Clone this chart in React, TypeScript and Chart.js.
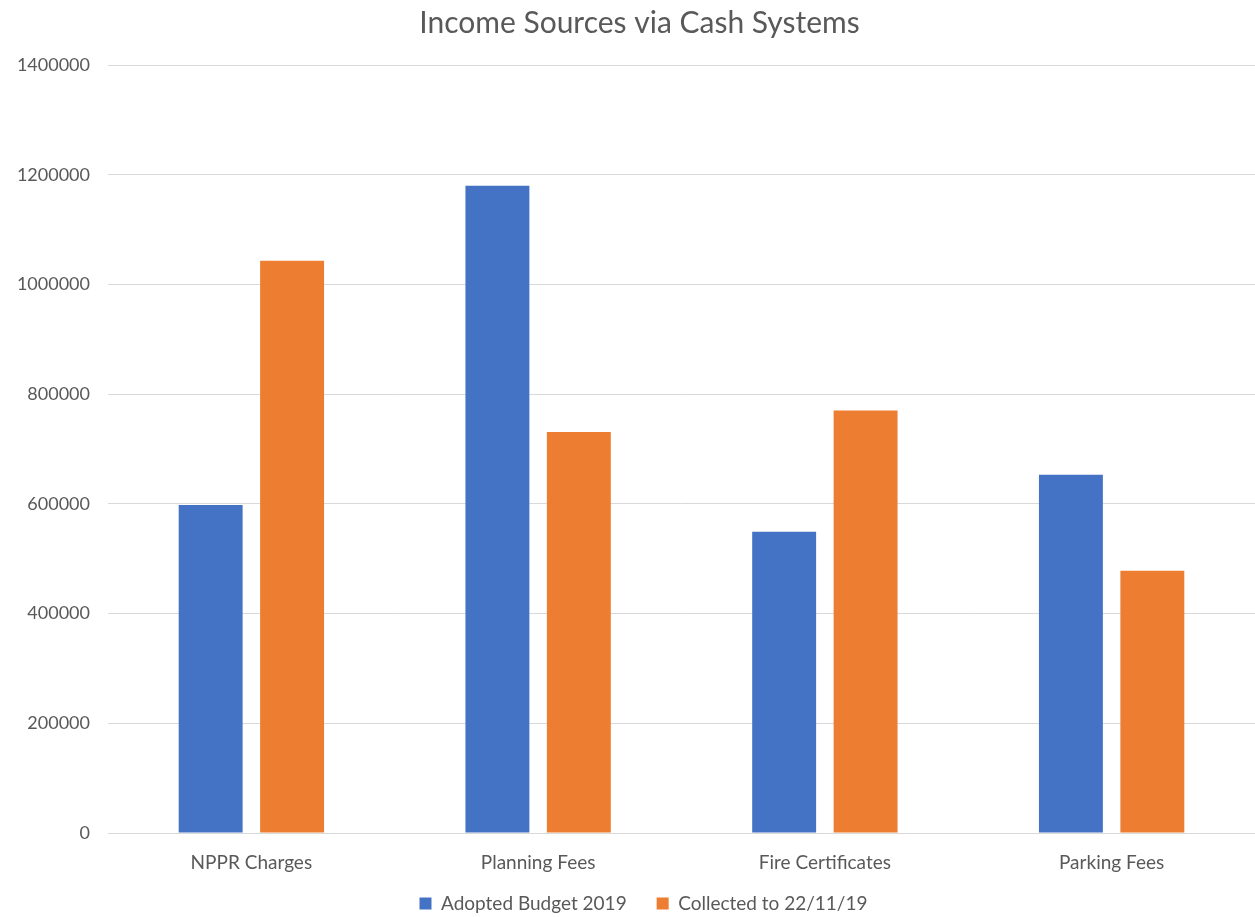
import React, { useEffect, useRef } from "react";
import { Chart, registerables } from "chart.js";

Chart.register(...registerables);

const categories = ["NPPR Charges", "Planning Fees", "Fire Certificates", "Parking Fees"];
const adoptedBudget = [598000, 1180000, 549000, 653000];
const collected = [1043000, 731000, 770000, 478000];
const seriesNames = ["Adopted Budget 2019", "Collected to 22/11/19"];
const chartTitle = "Income Sources via Cash Systems";

const TEXT = "#595959";
const FONT = "Lato, 'Noto Sans', sans-serif";
const LEGEND_PAD = 30;

const legendFit = {
  id: "legendFit",
  beforeUpdate(chart: any) {
    const lg = chart.legend;
    if (lg && !lg._patched) {
      const f = lg.fit;
      lg.fit = function (this: any) {
        f.call(this);
        this.height -= LEGEND_PAD;
      };
      lg._patched = true;
    }
  },
  afterLayout(chart: any) {
    const lg = chart.legend;
    if (lg) {
      lg.top -= LEGEND_PAD - 6;
      lg.bottom = chart.height;
      lg.left += 16;
      lg.right += 16;
    }
    const tb = chart.titleBlock;
    if (tb) {
      tb.left += 12;
      tb.right += 12;
    }
  },
};

export default function App() {
  const ref = useRef<HTMLCanvasElement | null>(null);

  useEffect(() => {
    document.body.style.margin = "0";
    const canvas = ref.current;
    if (!canvas) return;
    const chart = new Chart(canvas, {
      type: "bar",
      data: {
        labels: categories,
        datasets: [
          {
            label: seriesNames[0],
            data: adoptedBudget,
            backgroundColor: "#4472C4",
            barPercentage: 0.785,
            categoryPercentage: 0.568,
          },
          {
            label: seriesNames[1],
            data: collected,
            backgroundColor: "#ED7D31",
            barPercentage: 0.785,
            categoryPercentage: 0.568,
          },
        ],
      },
      plugins: [legendFit],
      options: {
        animation: false,
        responsive: false,
        devicePixelRatio: 1,
        layout: { padding: { left: 0, right: 0, top: 0, bottom: 0 } },
        plugins: {
          title: {
            display: true,
            text: chartTitle,
            color: TEXT,
            font: { family: FONT, size: 30, weight: "normal" },
            padding: { top: 5, bottom: 24 },
          },
          legend: {
            position: "bottom",
            labels: {
              color: TEXT,
              font: { family: FONT, size: 19 },
              boxWidth: 12,
              boxHeight: 12,
              padding: LEGEND_PAD,
            },
          },
          tooltip: { enabled: false },
        },
        scales: {
          x: {
            grid: { display: false, drawTicks: false },
            border: { display: true, color: "#D9D9D9", width: 1 },
            ticks: {
              color: TEXT,
              font: { family: FONT, size: 19 },
              padding: 18,
            },
            afterFit: (axis: any) => {
              axis.height = 55;
            },
          },
          y: {
            min: 0,
            max: 1400000,
            grid: { color: "#D9D9D9", drawTicks: false },
            border: { display: false },
            ticks: {
              stepSize: 200000,
              color: TEXT,
              font: { family: FONT, size: 18 },
              padding: 18,
              callback: (v: any) => String(v),
            },
            afterFit: (axis: any) => {
              axis.width = 108;
            },
          },
        },
      },
    });
    return () => chart.destroy();
  }, []);

  return (
    <div style={{ position: "absolute", left: 0, top: 0, width: 1255, height: 917, background: "#fff" }}>
      <canvas ref={ref} width={1255} height={917} style={{ display: "block" }} />
    </div>
  );
}
